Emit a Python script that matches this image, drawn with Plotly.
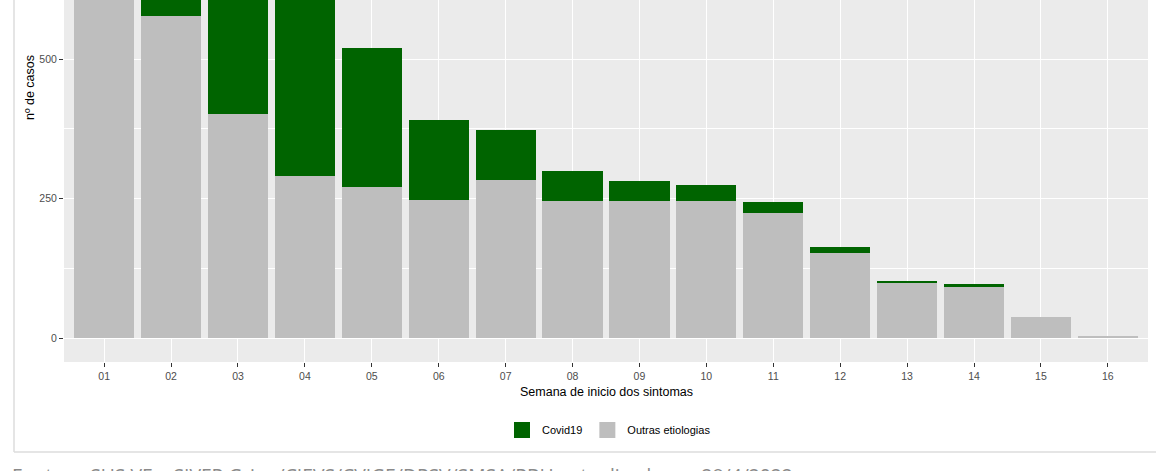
import plotly.graph_objects as go

semanas = ["01", "02", "03", "04", "05", "06", "07", "08", "09", "10", "11", "12", "13", "14", "15", "16"]
outras = [650, 577, 402, 291, 270, 248, 284, 246, 245, 245, 224, 152, 99, 92, 37, 4]
covid = [60, 120, 380, 520, 250, 143, 89, 54, 37, 30, 19, 11, 4, 4, 0, 0]
y_ticks = [0, 250, 500, 750]

GREEN = "#006400"
GREY = "#BEBEBE"
FONT = "Liberation Sans, Arial, sans-serif"

W, H = 1156, 471
ML, MR, MT, MB = 64, 8, 0, 109
PW = W - ML - MR
PH = H - MT - MB


def px_x(px):
    return (px - ML) / PW


def px_y(py):
    return (PH - py) / PH


fig = go.Figure()
fig.add_trace(go.Bar(x=semanas, y=outras, marker=dict(color=GREY, line=dict(width=0)),
                     name="Outras etiologias", showlegend=False))
fig.add_trace(go.Bar(x=semanas, y=covid, marker=dict(color=GREEN, line=dict(width=0)),
                     name="Covid19", showlegend=False))
# legend keys
fig.add_trace(go.Scatter(x=[None], y=[None], mode="markers", name="Covid19",
                         marker=dict(symbol="square", size=18, color=GREEN)))
fig.add_trace(go.Scatter(x=[None], y=[None], mode="markers", name="Outras etiologias",
                         marker=dict(symbol="square", size=18, color=GREY)))

fig.update_layout(
    width=W, height=H,
    margin=dict(l=ML, r=MR, t=MT, b=MB),
    barmode="stack", bargap=0.1,
    paper_bgcolor="white", plot_bgcolor="#EBEBEB",
    font=dict(family=FONT, color="#4D4D4D"),
    legend=dict(orientation="h", x=px_x(609), xanchor="center", y=px_y(430), yanchor="middle",
                font=dict(size=11, color="black", family=FONT), bgcolor="rgba(0,0,0,0)",
                traceorder="normal", itemwidth=30),
    xaxis=dict(type="category", range=[-0.6, 15.6], showgrid=True, gridcolor="white", gridwidth=1.1,
               ticks="outside", ticklen=4, tickcolor="#333333", tickwidth=1,
               tickfont=dict(size=10.5, color="#4D4D4D"), zeroline=False, showline=False, fixedrange=True),
    yaxis=dict(range=[-43, 606], tickvals=y_ticks, showgrid=True, gridcolor="white", gridwidth=1.1,
               minor=dict(dtick=125, tick0=0, showgrid=True, gridcolor="white", gridwidth=0.55),
               ticks="outside", ticklen=4, tickcolor="#333333", tickwidth=1,
               tickfont=dict(size=10.5, color="#4D4D4D"), zeroline=False, showline=False),
    showlegend=True,
)

fig.add_annotation(text="nº de casos", xref="paper", yref="paper", x=px_x(30), y=px_y(88),
                   xanchor="center", yanchor="middle", textangle=-90, showarrow=False,
                   font=dict(size=12.5, color="black", family=FONT))
fig.add_annotation(text="Semana de inicio dos sintomas", xref="paper", yref="paper", x=0.5, y=px_y(392),
                   xanchor="center", yanchor="middle", showarrow=False,
                   font=dict(size=12.5, color="black", family=FONT))
fig.add_annotation(text="Fonte: e-SUS VE e SIVEP Gripe/CIEVS/CVIGE/DPSV/SMSA/PBH - atualizado em 28/4/2022",
                   xref="paper", yref="paper", x=px_x(10), y=px_y(460), xanchor="left", yanchor="top",
                   showarrow=False, font=dict(size=19.3, color="#8A8A8A", family="Open Sans, sans-serif"))

# outer frame of the embedded image
fig.add_shape(type="line", xref="paper", yref="paper", x0=px_x(14), x1=px_x(14), y0=px_y(452), y1=px_y(-10),
              line=dict(color="#DDDDDD", width=1.5), layer="above")
fig.add_shape(type="line", xref="paper", yref="paper", x0=px_x(14), x1=px_x(1160), y0=px_y(452), y1=px_y(452),
              line=dict(color="#DDDDDD", width=1.5), layer="above")

fig.write_html("out.html", config={"displayModeBar": False},
               post_script="document.body.style.margin='0';document.body.style.overflow='hidden';")
